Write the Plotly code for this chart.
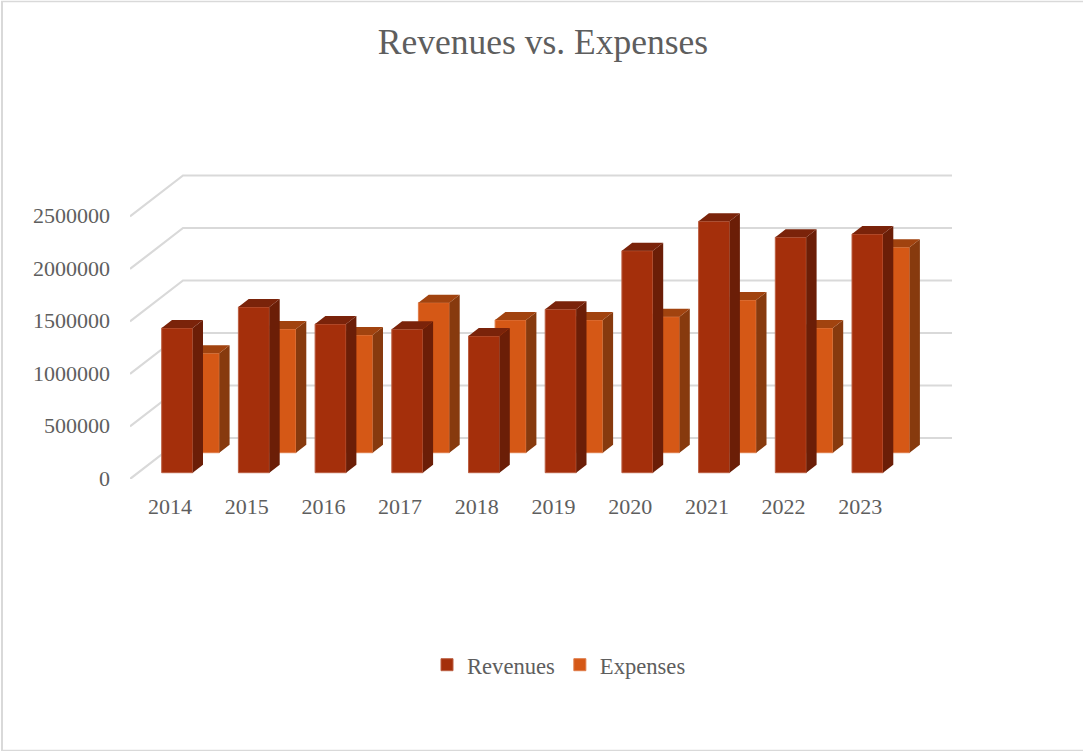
import plotly.graph_objects as go

# Yearly figures
years = ["2014", "2015", "2016", "2017", "2018", "2019", "2020", "2021", "2022", "2023"]
revenues = [1378000, 1578000, 1416000, 1366000, 1302000, 1556000, 2114000, 2394000, 2242000, 2273000]
expenses = [947000, 1178000, 1121000, 1429000, 1264000, 1264000, 1295000, 1454000, 1188000, 1956000]
value_ticks = [0, 500000, 1000000, 1500000, 2000000, 2500000]

# Canvas and plot frame, in pixels
W, H = 1083, 751
LEFT, RIGHT, TOP, BOTTOM = 130, 952, 164, 479
PX_PER_CAT = 76.7
FIRST_TICK_PX = 170
Y_MAX = 3000000
PX_PER_UNIT = (BOTTOM - TOP) / Y_MAX

X_RANGE = [(LEFT - FIRST_TICK_PX) / PX_PER_CAT, (RIGHT - FIRST_TICK_PX) / PX_PER_CAT]
Y_RANGE = [0, Y_MAX]


def dx(px):
    return px / PX_PER_CAT


def dy(px):
    return px / PX_PER_UNIT


def paper_x(px):
    return (px - LEFT) / (RIGHT - LEFT)


def paper_y(px):
    return (BOTTOM - px) / (BOTTOM - TOP)


# Oblique projection: rows step up and to the right
BAR_W = dx(31)
FACE_DX, FACE_DY = dx(10.3), dy(8)
WALL_DX, WALL_DY = dx(53), dy(41)
REV_X, REV_BASE = dx(7.2), dy(6.3)
EXP_X, EXP_BASE = dx(33.8), dy(26.3)

GRID = "#D9D9D9"
TEXT = "#5E5E5E"
FONT = "Liberation Serif"
TICK_SIZE = 22
LABEL_SIZE = 22.6


def faces(positions, base, values):
    """Side and top polygons of each box, as None-separated rings."""
    side_x, side_y, top_x, top_y = [], [], [], []
    for p, v in zip(positions, values):
        l, r = p - BAR_W / 2, p + BAR_W / 2
        t = base + v
        side_x += [r, r + FACE_DX, r + FACE_DX, r, r, None]
        side_y += [base, base + FACE_DY, t + FACE_DY, t, base, None]
        top_x += [l, l + FACE_DX, r + FACE_DX, r, l, None]
        top_y += [t, t + FACE_DY, t + FACE_DY, t, t, None]
    return side_x, side_y, top_x, top_y


def add_boxes(fig, name, offset, base, values, front, side, top, edge, rank, xa, ya):
    pos = [i + offset for i in range(len(values))]
    fig.add_trace(go.Bar(
        x=pos, y=values, base=base, width=BAR_W, name=name, legendrank=rank,
        marker=dict(color=front, line=dict(color=edge, width=1)),
        xaxis=xa, yaxis=ya,
    ))
    sx, sy, tx, ty = faces(pos, base, values)
    for xs, ys, col in ((sx, sy, side), (tx, ty, top)):
        fig.add_trace(go.Scatter(
            x=xs, y=ys, mode="lines", fill="toself", fillcolor=col,
            line=dict(width=0), showlegend=False, hoverinfo="skip",
            xaxis=xa, yaxis=ya,
        ))


def frame_line(x0, y0, x1, y1, width):
    return dict(
        type="line", xref="paper", yref="paper", layer="below",
        x0=paper_x(x0), x1=paper_x(x1), y0=paper_y(y0), y1=paper_y(y1),
        line=dict(color=GRID, width=width),
    )


fig = go.Figure()

# Back wall and side wall gridlines
grid_x, grid_y = [], []
for v in value_ticks:
    grid_x += [X_RANGE[0], X_RANGE[0] + WALL_DX, X_RANGE[1], None]
    grid_y += [v, v + WALL_DY, v + WALL_DY, None]
fig.add_trace(go.Scatter(
    x=grid_x, y=grid_y, mode="lines", line=dict(color=GRID, width=2.2),
    showlegend=False, hoverinfo="skip", cliponaxis=False,
))

# Rear row, then front row on overlaid axes so the front row paints on top
add_boxes(fig, "Expenses", EXP_X, EXP_BASE, expenses,
          "#D55816", "#873A0E", "#A1430F", "#DF7C48", 2, "x2", "y2")
add_boxes(fig, "Revenues", REV_X, REV_BASE, revenues,
          "#A42F0B", "#6B1E07", "#7A230A", "#BC5F43", 1, "x3", "y3")

hidden_x = dict(range=X_RANGE, visible=False, fixedrange=True)
hidden_y = dict(range=Y_RANGE, visible=False, fixedrange=True)

fig.update_layout(
    width=W, height=H,
    margin=dict(l=LEFT, r=W - RIGHT, t=TOP, b=H - BOTTOM, autoexpand=False),
    paper_bgcolor="white", plot_bgcolor="rgba(0,0,0,0)",
    font=dict(family=FONT, color=TEXT, size=TICK_SIZE),
    barmode="overlay",
    title=dict(
        text="Revenues vs. Expenses", font=dict(size=35.5, family=FONT, color=TEXT),
        x=543 / W, xanchor="center", xref="container", y=1 - 42 / H, yanchor="middle", yref="container",
    ),
    xaxis=dict(
        range=X_RANGE, tickmode="array", tickvals=list(range(len(years))), ticktext=years,
        showgrid=False, zeroline=False, showline=False, ticks="", ticklabelstandoff=12,
        tickfont=dict(size=TICK_SIZE, family=FONT, color=TEXT), fixedrange=True,
    ),
    yaxis=dict(
        range=Y_RANGE, tickmode="array", tickvals=value_ticks, ticktext=[str(v) for v in value_ticks],
        showgrid=False, zeroline=False, showline=False, ticks="", ticklabelstandoff=19,
        ticklabelshift=-1,
        tickfont=dict(size=TICK_SIZE, family=FONT, color=TEXT), fixedrange=True,
    ),
    xaxis2=dict(overlaying="x", **hidden_x),
    yaxis2=dict(overlaying="y", **hidden_y),
    xaxis3=dict(overlaying="x", **hidden_x),
    yaxis3=dict(overlaying="y", **hidden_y),
    legend=dict(
        orientation="h", x=paper_x(559), xanchor="center",
        y=paper_y(665), yanchor="middle",
        font=dict(size=LABEL_SIZE, family=FONT, color=TEXT), itemwidth=30,
        bgcolor="rgba(0,0,0,0)",
    ),
    annotations=[dict(
        text="Revenues", xref="x", yref="y", showarrow=False,
        x=(983 - FIRST_TICK_PX) / PX_PER_CAT, y=dy(BOTTOM - 469),
        font=dict(size=LABEL_SIZE, family=FONT, color=TEXT),
    )],
    # Chart frame: top, left and bottom edges
    shapes=[
        frame_line(1, 1.5, W, 1.5, 1.5),
        frame_line(2, 1, 2, 751, 2),
        frame_line(1, 750.5, W, 750.5, 1.5),
    ],
)

fig.write_html("out.html", config=dict(displayModeBar=False))
